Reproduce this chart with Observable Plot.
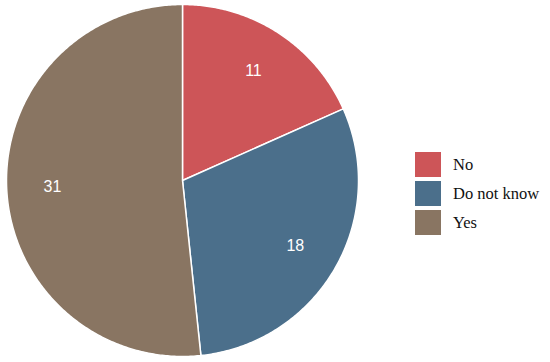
<!DOCTYPE html>
<html>
<head>
<meta charset="utf-8">
<script src="https://cdn.jsdelivr.net/npm/d3@7"></script>
<script src="https://cdn.jsdelivr.net/npm/@observablehq/plot@0.6"></script>
<style>
  body { margin: 0; background: #fff; }
  #wrap { position: relative; width: 550px; height: 362px; }
  #legend { position: absolute; left: 415px; top: 152px; font-family: "Liberation Serif", "DejaVu Serif", serif; font-size: 16.5px; color: #111; }
  .row { display: flex; align-items: center; height: 25px; margin-bottom: 4px; }
  .sw { width: 26px; height: 25px; margin-right: 12px; }
</style>
</head>
<body>
<div id="wrap"><div id="legend"></div></div>
<script>
const categories = ["No", "Do not know", "Yes"];
const values = [11, 18, 31];
const colors = ["#cd5558", "#4b6f8b", "#897562"];

const W = 550, H = 362;
const cx = 182, cy = 180, R = 176;

const pie = d3.pie().sort(null).value(d => d.value)(categories.map((c, i) => ({category: c, value: values[i]})));

const pts = [];
for (const s of pie) {
  const n = Math.max(2, Math.ceil((s.endAngle - s.startAngle) / 0.01));
  pts.push({category: s.data.category, x: 0, y: 0});
  for (let k = 0; k <= n; k++) {
    const a = s.startAngle + (s.endAngle - s.startAngle) * k / n;
    pts.push({category: s.data.category, x: Math.sin(a), y: Math.cos(a)});
  }
  pts.push({category: s.data.category, x: 0, y: 0});
}
const labels = pie.map(s => {
  const a = (s.startAngle + s.endAngle) / 2;
  const r = 0.74;
  return {text: String(s.data.value), x: r * Math.sin(a), y: r * Math.cos(a)};
});

const chart = Plot.plot({
  width: W, height: H,
  margin: 0,
  x: {domain: [-cx / R, (W - cx) / R], axis: null},
  y: {domain: [-(H - cy) / R, cy / R], axis: null},
  color: {domain: categories, range: colors},
  marks: [
    Plot.line(pts, {x: "x", y: "y", z: "category", fill: "category", stroke: "white", strokeWidth: 1.5, curve: "linear"}),
    Plot.text(labels, {x: "x", y: "y", text: "text", fill: "white", fontSize: 16, fontFamily: "Liberation Sans, Arial, sans-serif"})
  ]
});
document.getElementById("wrap").prepend(chart);

const legend = document.getElementById("legend");
categories.forEach((c, i) => {
  const row = document.createElement("div");
  row.className = "row";
  const sw = document.createElement("div");
  sw.className = "sw";
  sw.style.background = colors[i];
  const lab = document.createElement("span");
  lab.textContent = c;
  row.appendChild(sw); row.appendChild(lab);
  legend.appendChild(row);
});
</script>
</body>
</html>
